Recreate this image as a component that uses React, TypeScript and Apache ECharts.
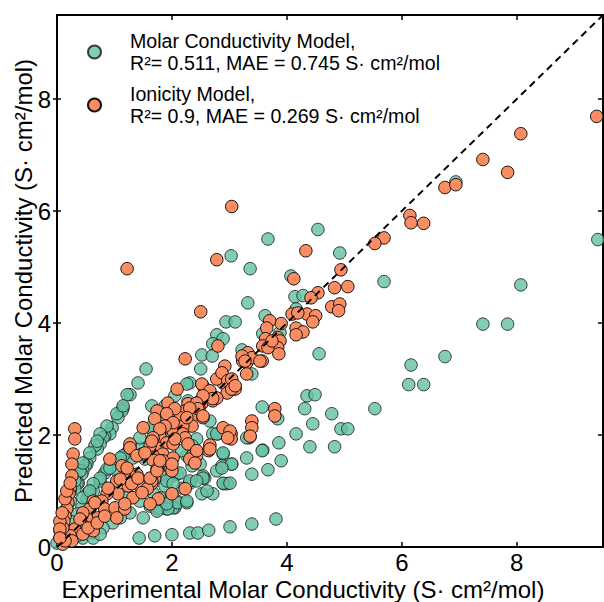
import React, { useEffect, useRef } from "react";
import * as echarts from "echarts";

const molarName = "Molar Conductivity Model,\nR²= 0.511, MAE = 0.745 S· cm²/mol";
const ionicName = "Ionicity Model,\nR²= 0.9, MAE = 0.269 S· cm²/mol";

const xTitle = "Experimental Molar Conductivity (S· cm²/mol)";
const yTitle = "Predicted Molar Conductivity (S· cm²/mol)";

const axisMin = 0;
const axisMax = 9.5;
const tickStep = 2;

const parityLine = [[0, 0], [9.5, 9.5]];

const molarUpper = [
  [9.41, 5.49], [8.07, 4.68], [7.41, 3.98], [7.84, 3.98], [6.75, 3.4], [6.16, 3.25], [6.12, 2.9], [6.38, 2.9],
  [5.69, 4.74], [5.53, 2.47], [6.94, 6.52],
  [3.67, 5.5], [4.54, 5.67], [4.92, 5.25], [4.07, 4.84], [4.14, 4.47], [4.28, 4.49], [4.16, 4.25], [3.62, 4.13],
  [3.58, 3.81], [3.88, 3.83], [4.56, 3.45], [3.03, 5.2], [3.36, 4.97], [3.32, 4.36], [2.94, 4.02], [3.1, 4.02],
  [2.78, 3.79], [2.89, 3.72], [2.71, 3.63], [2.52, 3.43], [2.7, 3.41], [2.5, 3.18], [3.22, 3.52], [3.39, 3.09],
  [2.31, 2.93], [2.26, 2.91],
];

const molarScatter = [
  [4.35, 2.7], [4.49, 2.72], [4.31, 2.47], [3.57, 2.5], [4.78, 2.38], [4.45, 2.2], [4.94, 2.11], [5.06, 2.11],
  [3.84, 2.29], [4.16, 2.02], [3.86, 1.86], [4.4, 1.79], [4.83, 1.79], [3.58, 1.73], [3.9, 1.54], [3.67, 1.38],
  [3.36, 1.97], [2.8, 2.02], [3.3, 1.59], [2.89, 1.66], [3.04, 1.48], [2.87, 1.45], [2.78, 1.36], [3.39, 1.3],
  [2.9, 1.13], [2.96, 1.13], [2.71, 0.95], [2.52, 0.95], [2.57, 1.23], [3.57, 1.72], [3.34, 1.95], [2.54, 1.27],
  [2.49, 1.48], [2.35, 1.45], [2.31, 1.14], [2.19, 1.05], [2.09, 0.82], [1.91, 0.82], [1.84, 0.7], [2.05, 0.7],
  [1.7, 0.7], [2.26, 1.63], [1.91, 1.48], [2.17, 1.72], [2.19, 2.4], [2.28, 2.61], [2.05, 2.7], [1.88, 2.52],
  [1.65, 2.52], [1.67, 2.11], [1.88, 2.02], [2.31, 2.34], [2.66, 2.25], [2.71, 2.02], [2.43, 1.93], [2.35, 1.81],
  [1.65, 1.66], [1.83, 1.57], [1.83, 1.3],
];

const molarBottomRow = [
  [1.43, 0.16], [1.7, 0.2], [2.0, 0.22], [2.31, 0.25], [2.45, 0.25], [2.64, 0.3], [3.01, 0.36], [3.39, 0.41], [3.81, 0.5],
];

const molarSteep = [
  [1.55, 3.18], [1.41, 2.93], [1.27, 2.72], [1.22, 2.72], [1.15, 2.48], [1.13, 2.43], [1.06, 2.31], [0.96, 2.13],
  [0.92, 2.02], [0.83, 1.98], [0.8, 1.95], [0.75, 1.84], [0.7, 1.75], [0.66, 1.81], [0.57, 1.59], [0.52, 1.48],
  [0.49, 1.45], [0.45, 1.36], [0.43, 1.3], [0.37, 1.14], [0.35, 1.14], [0.31, 1.04], [0.23, 0.82], [0.17, 0.68],
  [0.1, 0.46], [0.09, 0.34], [0.57, 1.68], [0.4, 1.36], [0.31, 1.18], [0.23, 1.0], [1.04, 2.38], [0.87, 2.16],
  [0.75, 2.02], [0.7, 1.89], [0.45, 1.5], [1.15, 2.52],
];

const molarBand = [
  [1.22, 1.68], [1.04, 1.54], [0.83, 1.32], [0.75, 1.18], [0.63, 1.0], [0.52, 0.86], [0.43, 0.7], [0.35, 0.59],
  [0.23, 0.46], [0.14, 0.34], [1.04, 1.36], [0.87, 1.39], [0.75, 1.23], [0.63, 1.13], [0.54, 0.97], [0.45, 0.88],
  [1.44, 1.77], [1.32, 1.59], [1.15, 1.63], [1.53, 1.57], [1.84, 1.84],
  [1.79, 0.88], [1.91, 0.68], [1.76, 0.68], [1.62, 0.73], [1.5, 0.52], [1.27, 0.61], [1.1, 0.52], [0.97, 0.43],
  [0.8, 0.34], [0.63, 0.25], [0.45, 0.16], [1.88, 1.09], [2.0, 1.27], [2.02, 0.7], [1.22, 0.88], [1.44, 0.82],
  [1.67, 0.97], [1.79, 0.7], [1.93, 0.68], [2.1, 0.79], [2.26, 0.79], [1.91, 1.18], [2.31, 1.18], [2.54, 1.23],
  [2.09, 1.3], [2.61, 1.0], [2.89, 1.14], [3.01, 1.14], [2.89, 1.68], [3.04, 1.48], [3.3, 1.95], [2.78, 2.02],
  [2.87, 1.41], [0.35, 0.2], [0.63, 0.16], [0.75, 0.23], [0.05, 0.29], [0.05, 0.16], [0.0, 0.07], [0.1, 0.2],
  [0.2, 0.1], [0.15, 0.25], [0.28, 0.3],
  [0.92, 1.41], [1.1, 1.59], [1.27, 1.77], [1.44, 1.95], [1.62, 2.13], [1.79, 2.25], [0.57, 1.0], [2.02, 1.13],
  [2.14, 1.32], [2.26, 0.82], [1.91, 0.77], [1.74, 0.64], [2.43, 1.18],
];

const ionicUpper = [
  [9.39, 7.69], [8.07, 7.38], [7.41, 6.92], [7.84, 6.69], [6.75, 6.42], [6.94, 6.47], [6.14, 5.92], [6.16, 5.79],
  [6.38, 5.78], [5.69, 5.52], [5.53, 5.42],
  [4.33, 5.29], [3.04, 6.08], [2.78, 5.13], [1.22, 4.97], [2.5, 4.2], [2.23, 3.36], [2.8, 3.59], [2.09, 2.82],
];

const ionicMid = [
  [4.94, 4.95], [4.83, 4.63], [5.06, 4.65], [4.54, 4.54], [4.42, 4.45], [4.12, 4.79], [4.78, 4.29], [4.92, 4.34],
  [4.9, 4.22], [4.35, 4.16], [4.5, 4.13], [4.45, 4.02], [4.09, 4.16], [4.19, 4.18], [4.16, 3.91], [4.28, 3.84],
  [4.16, 3.79], [3.9, 3.99], [3.7, 4.04], [3.65, 3.91], [3.84, 3.74], [3.88, 3.68], [3.63, 3.72], [3.84, 3.56],
  [3.86, 3.45], [3.58, 3.59], [3.57, 3.32], [3.79, 2.47], [3.79, 2.34],
  [3.39, 2.25], [3.39, 2.13], [2.89, 2.13], [3.03, 2.02], [3.03, 1.93], [2.66, 1.82], [2.64, 1.72],
  [3.32, 3.47], [3.3, 3.29], [3.39, 3.38], [3.23, 3.32], [3.53, 3.32], [3.67, 3.56], [2.89, 2.93], [3.06, 2.84],
  [2.96, 2.75], [2.78, 3.0], [2.66, 2.66], [2.57, 2.79], [2.52, 2.56], [2.71, 2.61],
];

const ionicBand = [
  [2.92, 3.23], [2.87, 3.11], [2.97, 2.97], [3.1, 2.82], [3.3, 3.09], [3.22, 3.41], [3.74, 3.68], [2.54, 2.88],
  [2.66, 2.75], [2.78, 2.66], [2.49, 2.61], [2.28, 2.56], [2.23, 2.43], [2.47, 2.48], [2.37, 2.34], [2.54, 2.31],
  [1.97, 2.47], [2.14, 2.31], [1.74, 2.43], [1.7, 2.29], [2.35, 2.16], [2.19, 2.16], [1.93, 2.13], [2.02, 2.07],
  [1.79, 1.97], [1.67, 1.93], [1.91, 1.86], [2.02, 1.84], [2.19, 2.02], [2.23, 1.95], [1.74, 1.77], [1.84, 1.66],
  [1.67, 1.63], [2.02, 1.59], [1.97, 1.41], [2.0, 1.36], [1.7, 1.23], [1.65, 1.13], [2.0, 0.95], [1.76, 0.86],
  [3.01, 2.07], [2.97, 1.95], [2.66, 1.75], [2.35, 1.63], [2.43, 1.63], [2.31, 1.57], [2.4, 1.5], [3.36, 1.98],
  [3.04, 3.0], [3.04, 2.82], [3.1, 2.88], [3.27, 3.32], [2.52, 2.91], [2.66, 2.79], [2.71, 2.65], [2.54, 2.7],
  [2.43, 2.57], [2.45, 2.47], [2.31, 2.48], [2.54, 2.34], [2.26, 2.31], [1.93, 2.57], [2.05, 2.47], [1.91, 2.38],
  [2.02, 2.22], [1.88, 2.16], [1.79, 2.11], [1.67, 1.95], [2.05, 1.93], [2.28, 1.84], [2.43, 1.72], [1.5, 2.13],
  [1.62, 1.81], [1.48, 1.66], [1.27, 1.84], [1.67, 1.55], [1.84, 1.54], [2.0, 1.48], [1.74, 1.39], [1.65, 1.18],
  [2.23, 1.04],
];

const ionicLow = [
  [0.92, 1.57], [1.13, 1.45], [1.22, 1.3], [1.39, 1.3], [1.04, 1.18], [1.24, 1.09], [1.44, 1.09], [1.57, 1.04],
  [1.62, 0.77], [1.32, 0.88], [1.06, 0.95], [0.87, 0.95], [0.78, 0.82], [0.63, 0.82], [0.57, 0.68], [0.83, 0.68],
  [1.01, 0.7], [1.18, 0.68], [1.04, 0.52], [0.71, 0.52], [0.52, 0.5], [0.43, 0.41], [0.31, 0.32], [0.23, 0.2],
  [0.45, 0.23], [0.63, 0.29], [0.26, 0.11], [0.1, 0.05],
  [1.27, 1.77], [1.39, 1.63], [1.53, 1.68], [1.22, 1.41], [1.1, 1.21], [1.3, 1.13], [0.89, 1.05], [0.66, 0.79],
  [0.45, 0.61], [0.4, 0.5], [0.54, 0.34], [0.7, 0.43], [0.83, 0.55], [1.18, 0.77], [1.48, 0.97], [1.41, 1.23],
  [1.62, 1.23], [1.74, 1.36], [1.79, 1.54], [1.65, 1.89], [0.14, 0.11],
];

const ionicColumn = [
  [0.31, 2.11], [0.31, 1.93], [0.28, 1.66], [0.26, 1.48], [0.26, 1.27], [0.23, 1.05], [0.21, 0.95], [0.19, 0.79],
  [0.17, 0.68], [0.14, 0.55], [0.12, 0.46], [0.1, 0.34], [0.05, 0.46], [0.05, 0.32], [0.05, 0.16], [0.09, 0.61],
  [0.14, 0.86], [0.17, 1.0], [0.23, 1.14],
];

const FONT = "Liberation Sans, Arial, Helvetica, sans-serif";

export default function App() {
  const ref = useRef<HTMLDivElement>(null);

  useEffect(() => {
    if (!ref.current) return;
    const chart = echarts.init(ref.current, undefined, { renderer: "svg" });

    const molarData = [...molarUpper, ...molarScatter, ...molarBottomRow, ...molarSteep, ...molarBand];
    const ionicData = [...ionicUpper, ...ionicMid, ...ionicBand, ...ionicLow, ...ionicColumn];

    const valueAxisBase = {
      type: "value" as const,
      min: axisMin,
      max: axisMax,
      interval: tickStep,
      splitLine: { show: false },
    };
    const frameLine = { show: true, onZero: false, lineStyle: { color: "#000", width: 2 } };
    const tickStyle = { color: "#000", width: 1.5 };

    chart.setOption({
      animation: false,
      grid: { left: 57, right: 1, top: 15, bottom: 55, containLabel: false, outerBoundsMode: "none" },
      legend: {
        orient: "vertical",
        left: 82,
        top: 25,
        padding: 5,
        itemWidth: 13,
        itemHeight: 13,
        itemGap: 9,
        icon: "circle",
        data: [molarName, ionicName],
        textStyle: {
          fontSize: 19.6,
          lineHeight: 22,
          color: "#000",
          fontFamily: FONT,
          padding: [0, 0, 0, 24],
        },
        selectedMode: false,
      },
      xAxis: [
        {
          ...valueAxisBase,
          position: "bottom",
          name: xTitle,
          nameLocation: "middle",
          nameGap: 30,
          nameMoveOverlap: false,
          nameTextStyle: { fontSize: 24, color: "#000", fontFamily: FONT, padding: [0, 54, 0, 0] },
          axisLine: frameLine,
          axisTick: { show: true, inside: true, length: 5, lineStyle: tickStyle },
          axisLabel: { fontSize: 24, color: "#000", fontFamily: FONT, margin: 3, showMaxLabel: false },
        },
        {
          ...valueAxisBase,
          position: "top",
          axisLine: frameLine,
          axisTick: { show: true, inside: true, length: 5, lineStyle: tickStyle },
          axisLabel: { show: false },
        },
      ],
      yAxis: [
        {
          ...valueAxisBase,
          position: "left",
          name: yTitle,
          nameLocation: "middle",
          nameGap: 22,
          nameMoveOverlap: false,
          nameTextStyle: { fontSize: 24, color: "#000", fontFamily: FONT },
          axisLine: frameLine,
          axisTick: { show: true, inside: false, length: 4, lineStyle: tickStyle },
          axisLabel: { fontSize: 24, color: "#000", fontFamily: FONT, margin: 6, showMaxLabel: false },
        },
        {
          ...valueAxisBase,
          position: "right",
          axisLine: frameLine,
          axisTick: { show: true, inside: true, length: 5, lineStyle: tickStyle },
          axisLabel: { show: false },
        },
        {
          ...valueAxisBase,
          position: "left",
          axisLine: { show: false, onZero: false },
          axisTick: { show: true, inside: true, length: 4, lineStyle: tickStyle },
          axisLabel: { show: false },
        },
      ],
      series: [
        {
          name: molarName,
          type: "scatter",
          xAxisIndex: 0,
          yAxisIndex: 0,
          data: molarData,
          symbol: "circle",
          symbolSize: 12.5,
          itemStyle: { color: "#66c2a5", opacity: 0.82, borderColor: "#1a1a1a", borderWidth: 1 },
          z: 2,
        },
        {
          name: ionicName,
          type: "scatter",
          xAxisIndex: 0,
          yAxisIndex: 0,
          data: ionicData,
          symbol: "circle",
          symbolSize: 12.5,
          itemStyle: { color: "#fc8d62", opacity: 1, borderColor: "#111", borderWidth: 1 },
          z: 3,
        },
        {
          name: "parity",
          type: "line",
          xAxisIndex: 0,
          yAxisIndex: 0,
          data: parityLine,
          symbol: "none",
          silent: true,
          lineStyle: { color: "#000", width: 2, type: [7, 5] },
          z: 4,
        },
      ],
    });

    return () => chart.dispose();
  }, []);

  return <div ref={ref} style={{ width: 604, height: 602, position: "absolute", left: 0, top: 0 }} />;
}
